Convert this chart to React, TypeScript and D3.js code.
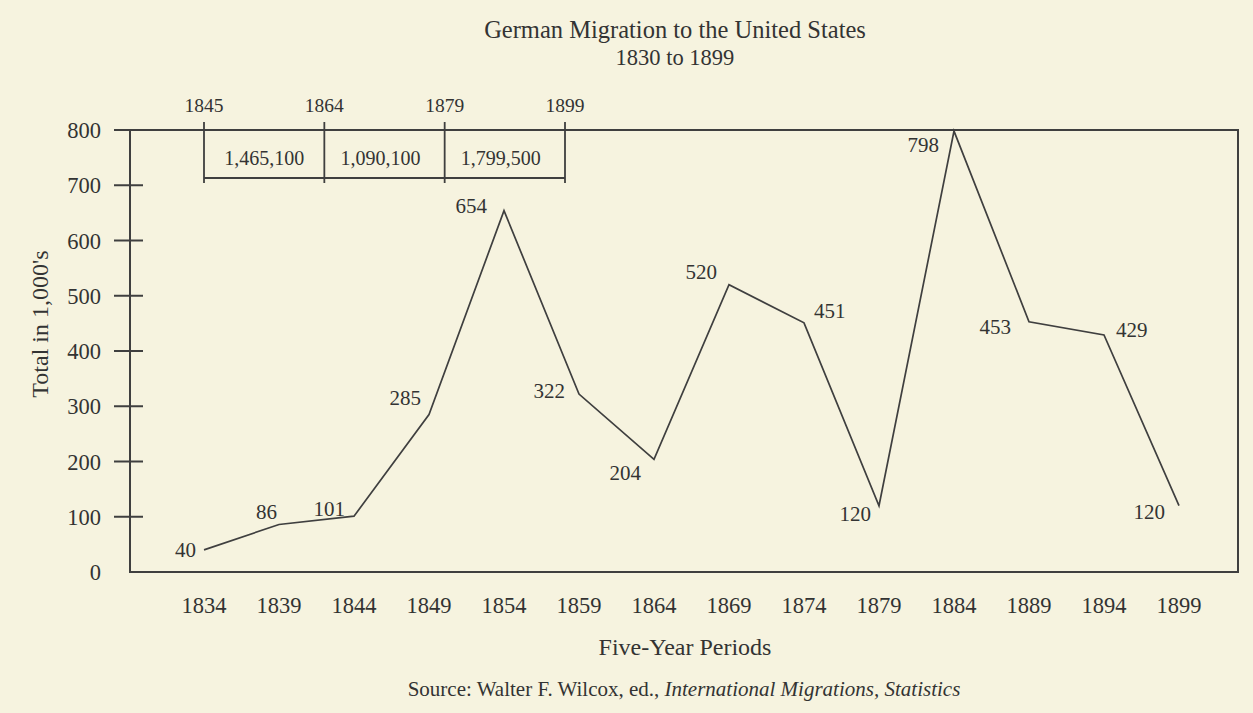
import * as d3 from 'd3';
import React, { ReactElement } from 'react';

const W = 1253;
const H = 713;

// five-year periods along the bottom
const periods = ['1834', '1839', '1844', '1849', '1854', '1859', '1864', '1869', '1874', '1879', '1884', '1889', '1894', '1899'];
// totals in 1,000's
const totals = [40, 86, 101, 285, 654, 322, 204, 520, 451, 120, 798, 453, 429, 120];
const yTicks = [0, 100, 200, 300, 400, 500, 600, 700, 800];

// the bracket above the plot
const eraBounds = ['1845', '1864', '1879', '1899'];
const eraTotals = ['1,465,100', '1,090,100', '1,799,500'];

// where each value label sits next to its point
const labelPlace = [
  { anchor: 'end', dx: -8, dy: 7 },
  { anchor: 'end', dx: -2, dy: -5 },
  { anchor: 'end', dx: -9, dy: 0 },
  { anchor: 'end', dx: -8, dy: -10 },
  { anchor: 'end', dx: -17, dy: 2 },
  { anchor: 'end', dx: -14, dy: 4 },
  { anchor: 'end', dx: -13, dy: 21 },
  { anchor: 'end', dx: -12, dy: -6 },
  { anchor: 'start', dx: 10, dy: -5 },
  { anchor: 'end', dx: -8, dy: 15 },
  { anchor: 'end', dx: -15, dy: 21 },
  { anchor: 'end', dx: -18, dy: 12 },
  { anchor: 'start', dx: 12, dy: 2 },
  { anchor: 'end', dx: -14, dy: 13 },
];

const FONT = "'Palatino Linotype', 'Book Antiqua', Palatino, 'Liberation Serif', serif";
const INK = '#333333';
const LINE = '#3f3f3f';

const PLOT = { left: 130, right: 1238, top: 130, bottom: 572 };

const App = (): ReactElement => {
  const x = d3.scalePoint<string>().domain(periods).range([204, 1179]);
  const y = d3.scaleLinear().domain([0, 800]).range([PLOT.bottom, PLOT.top]);
  const xe = d3.scalePoint<string>().domain(eraBounds).range([204, 565]);

  const line = d3
    .line<number>()
    .x((_, i) => x(periods[i]) as number)
    .y((d) => y(d));

  return (
    <svg
      width={W}
      height={H}
      style={{ position: 'absolute', left: 0, top: 0, display: 'block' }}
      fontFamily={FONT}
    >
      <rect width={W} height={H} fill="#f6f3df" />

      {/* title */}
      <text x={675} y={38} textAnchor="middle" fontSize={24.5} fill={INK}>
        German Migration to the United States
      </text>
      <text x={675} y={65} textAnchor="middle" fontSize={22.5} fill={INK}>
        1830 to 1899
      </text>

      {/* frame */}
      <rect
        x={PLOT.left}
        y={PLOT.top}
        width={PLOT.right - PLOT.left}
        height={PLOT.bottom - PLOT.top}
        fill="none"
        stroke={LINE}
        strokeWidth={2}
      />

      {/* y axis ticks and labels */}
      {yTicks.map((t) => (
        <g key={t}>
          {t > 0 && (
            <line
              x1={114}
              x2={t === 800 ? PLOT.left : 143}
              y1={y(t)}
              y2={y(t)}
              stroke={LINE}
              strokeWidth={2}
            />
          )}
          <text x={101} y={y(t) + 8} textAnchor="end" fontSize={22.5} fill={INK}>
            {t}
          </text>
        </g>
      ))}
      <text
        transform={`translate(42, 324) rotate(-90)`}
        textAnchor="middle"
        dominantBaseline="middle"
        fontSize={24}
        fill={INK}
      >
        Total in 1,000's
      </text>

      {/* era bracket */}
      <line x1={xe('1845')} x2={xe('1899')} y1={178} y2={178} stroke={LINE} strokeWidth={1.8} />
      {eraBounds.map((b) => (
        <g key={b}>
          <line x1={xe(b)} x2={xe(b)} y1={122} y2={183} stroke={LINE} strokeWidth={1.8} />
          <text x={xe(b)} y={112} textAnchor="middle" fontSize={19.5} fill={INK}>
            {b}
          </text>
        </g>
      ))}
      {eraTotals.map((v, i) => {
        const mid = ((xe(eraBounds[i]) as number) + (xe(eraBounds[i + 1]) as number)) / 2;
        return (
          <text key={v} x={mid - (i > 0 ? 4 : 0)} y={165} textAnchor="middle" fontSize={20} fill={INK}>
            {v}
          </text>
        );
      })}

      {/* the series */}
      <path d={line(totals) || ''} fill="none" stroke={LINE} strokeWidth={1.7} strokeLinejoin="miter" />
      {totals.map((v, i) => {
        const p = labelPlace[i];
        return (
          <text
            key={i}
            x={(x(periods[i]) as number) + p.dx}
            y={y(v) + p.dy}
            textAnchor={p.anchor}
            fontSize={21}
            fill={INK}
          >
            {v}
          </text>
        );
      })}

      {/* x axis labels */}
      {periods.map((p) => (
        <text key={p} x={x(p)} y={613} textAnchor="middle" fontSize={22.5} fill={INK}>
          {p}
        </text>
      ))}
      <text x={685} y={655} textAnchor="middle" fontSize={24} fill={INK}>
        Five-Year Periods
      </text>
      <text x={684} y={696} textAnchor="middle" fontSize={21} fill={INK}>
        Source: Walter F. Wilcox, ed.,{' '}
        <tspan fontStyle="italic">International Migrations, Statistics</tspan>
      </text>
    </svg>
  );
};

export default App;
